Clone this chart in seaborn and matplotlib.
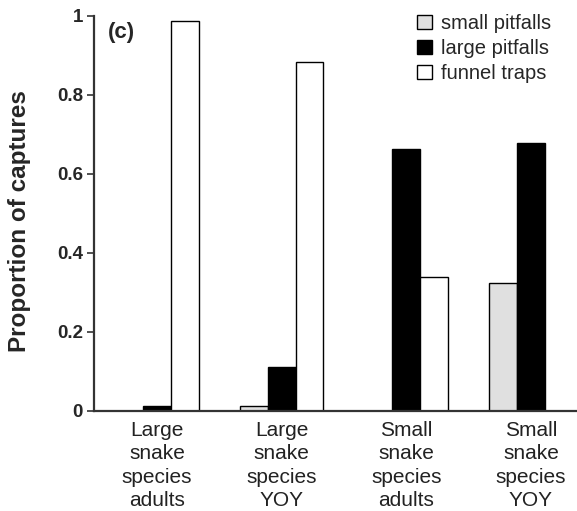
import pandas as pd
import matplotlib
matplotlib.use("Agg")
import matplotlib.pyplot as plt
import seaborn as sns

groups = ["Large\nsnake\nspecies\nadults", "Large\nsnake\nspecies\nYOY",
          "Small\nsnake\nspecies\nadults", "Small\nsnake\nspecies\nYOY"]
traps = ["small pitfalls", "large pitfalls", "funnel traps"]
small_pitfalls = [0.0, 0.011, 0.0, 0.323]
large_pitfalls = [0.013, 0.11, 0.663, 0.679]
funnel_traps = [0.988, 0.884, 0.338, 0.0]
yticks = [0, 0.2, 0.4, 0.6, 0.8, 1]
ytick_labels = ["0", "0.2", "0.4", "0.6", "0.8", "1"]

df = pd.DataFrame({
    "group": groups * 3,
    "trap": [traps[0]] * 4 + [traps[1]] * 4 + [traps[2]] * 4,
    "prop": small_pitfalls + large_pitfalls + funnel_traps,
})

sns.set_style("white")
plt.rcParams["font.family"] = ["Liberation Sans", "DejaVu Sans"]

fig = plt.figure(figsize=(5.77, 5.11), dpi=100)
ax = fig.add_axes([0.163, 0.196, 0.835, 0.773])

sns.barplot(data=df, x="group", y="prop", hue="trap", order=groups, hue_order=traps,
            palette=["#e0e0e0", "black", "white"], width=0.67,
            edgecolor="black", linewidth=1, ax=ax)

ax.set_xlim(-0.504, 3.36)
ax.set_ylim(0, 1)
ax.set_yticks(yticks)
ax.set_yticklabels(ytick_labels, fontsize=13.5, fontweight="bold")
ax.tick_params(axis="y", direction="out", length=5, width=1.2, color="#333333", pad=3, left=True)
ax.tick_params(axis="x", length=0, pad=7)
for lab in ax.get_xticklabels():
    lab.set_fontsize(15)
    lab.set_linespacing(1.3)
    lab.set_color("#222222")

ax.set_xlabel("")
ax.set_ylabel("Proportion of captures", fontsize=17.5, fontweight="bold")
ax.yaxis.set_label_coords(-0.13, 0.48)

sns.despine(ax=ax)
for s in ["left", "bottom"]:
    ax.spines[s].set_linewidth(1.6)
    ax.spines[s].set_color("#333333")

ax.text(0.028, 0.985, "(c)", transform=ax.transAxes, fontsize=16, fontweight="bold", va="top")

ax.legend(loc="upper right", frameon=False, fontsize=14.5, handlelength=0.75, handleheight=0.75,
          handletextpad=0.45, labelspacing=0.3, borderaxespad=0.1, bbox_to_anchor=(0.97, 1.03))

fig.savefig("out.png", dpi=100)
